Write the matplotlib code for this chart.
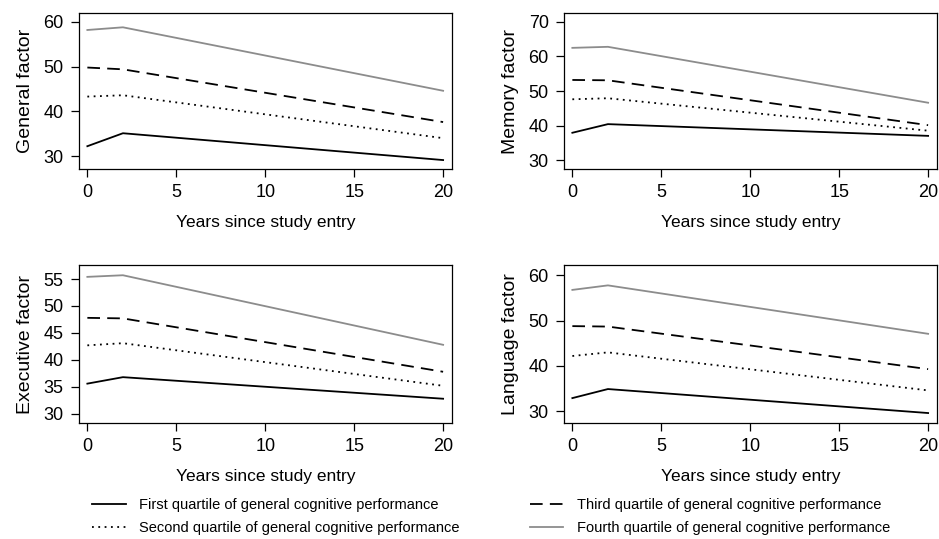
import matplotlib.pyplot as plt

plt.rcParams['font.family'] = ['Liberation Sans', 'DejaVu Sans']

years = [0, 2, 20]

panels = ["General factor", "Memory factor", "Executive factor", "Language factor"]

# values per quartile at 0, 2 and 20 years
general = {
    "q1": [32.2, 35.1, 29.1],
    "q2": [43.3, 43.6, 34.0],
    "q3": [49.8, 49.4, 37.6],
    "q4": [58.2, 58.8, 44.6],
}
memory = {
    "q1": [37.9, 40.4, 37.0],
    "q2": [47.6, 47.9, 38.5],
    "q3": [53.2, 53.1, 40.1],
    "q4": [62.5, 62.8, 46.6],
}
executive = {
    "q1": [35.6, 36.8, 32.8],
    "q2": [42.7, 43.1, 35.2],
    "q3": [47.8, 47.7, 37.8],
    "q4": [55.4, 55.7, 42.8],
}
language = {
    "q1": [32.9, 34.9, 29.6],
    "q2": [42.2, 43.0, 34.6],
    "q3": [48.8, 48.7, 39.3],
    "q4": [56.8, 57.8, 47.1],
}
data = [general, memory, executive, language]

yticks = [[30, 40, 50, 60], [30, 40, 50, 60, 70],
          [30, 35, 40, 45, 50, 55], [30, 40, 50, 60]]
ylims = [(27.1, 62.0), (27.4, 72.6), (28.3, 57.6), (27.4, 62.3)]

quartile_labels = {
    "q1": "First quartile of general cognitive performance",
    "q2": "Second quartile of general cognitive performance",
    "q3": "Third quartile of general cognitive performance",
    "q4": "Fourth quartile of general cognitive performance",
}
styles = {
    "q1": dict(color="black", linestyle="-", linewidth=1.3),
    "q2": dict(color="black", linestyle=(0, (1, 2.5)), linewidth=1.3),
    "q3": dict(color="black", linestyle=(0, (7, 4)), linewidth=1.3),
    "q4": dict(color="#8c8c8c", linestyle="-", linewidth=1.3),
}

fig = plt.figure(figsize=(9.39, 5.39), dpi=100)
w = 373 / 939
positions = [
    (79 / 939, 1 - 169 / 539, w, 156 / 539),
    (564 / 939, 1 - 169 / 539, w, 156 / 539),
    (79 / 939, 1 - 423 / 539, w, 158 / 539),
    (564 / 939, 1 - 423 / 539, w, 158 / 539),
]

handles = {}
for i, pos in enumerate(positions):
    ax = fig.add_axes(pos)
    for q in ["q1", "q2", "q3", "q4"]:
        line, = ax.plot(years, data[i][q], label=quartile_labels[q], **styles[q])
        handles[q] = line
    ax.set_xlim(-0.47, 20.5)
    ax.set_ylim(*ylims[i])
    ax.set_xticks([0, 5, 10, 15, 20])
    ax.set_yticks(yticks[i])
    ax.tick_params(direction="out", length=6, width=0.9, labelsize=13)
    ax.tick_params(axis="x", pad=5)
    ax.tick_params(axis="y", pad=5)
    for sp in ax.spines.values():
        sp.set_linewidth(0.9)
    ax.set_ylabel(panels[i], fontsize=14, labelpad=7)
    ax.set_xlabel("Years since study entry", fontsize=12.5, labelpad=10)

order = ["q1", "q2", "q3", "q4"]
fig.legend([handles[q] for q in order], [quartile_labels[q] for q in order],
           ncol=2, loc="upper left", bbox_to_anchor=(92 / 939, 1 - 498 / 539),
           frameon=False, borderpad=0, borderaxespad=0,
           handlelength=2.3, handletextpad=0.95,
           columnspacing=4.8, labelspacing=0.65, fontsize=10.5)

fig.savefig("out.png", dpi=100)
